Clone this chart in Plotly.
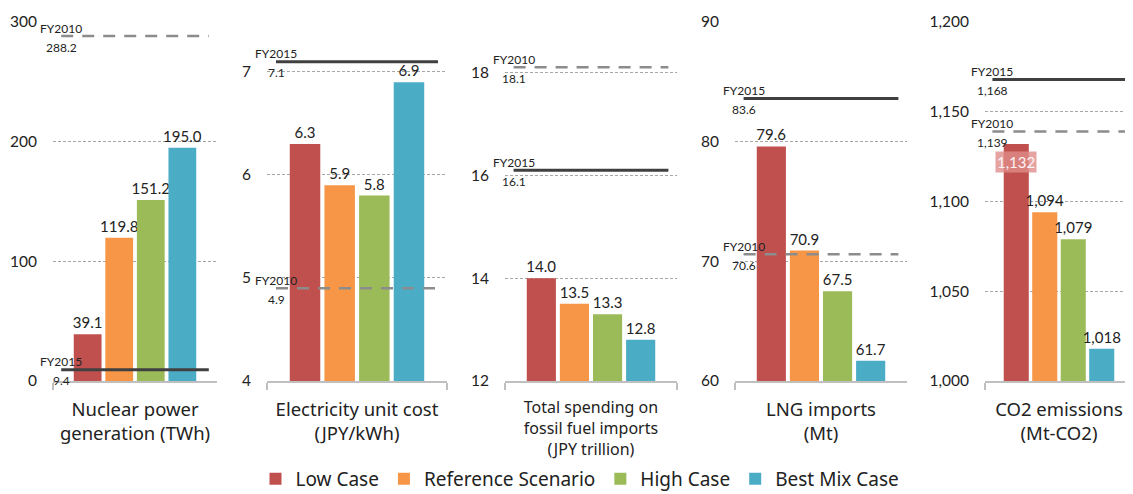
import plotly.graph_objects as go

# ---------------- data ----------------
categories = [
    "Nuclear power<br>generation (TWh)",
    "Electricity unit cost<br>(JPY/kWh)",
    "Total spending on<br>fossil fuel imports<br>(JPY trillion)",
    "LNG imports<br>(Mt)",
    "CO2 emissions<br>(Mt-CO2)",
]
scenarios = ["Low Case", "Reference Scenario", "High Case", "Best Mix Case"]
low_case = [39.1, 6.3, 14.0, 79.6, 1132]
reference_scenario = [119.8, 5.9, 13.5, 70.9, 1094]
high_case = [151.2, 5.8, 13.3, 67.5, 1079]
best_mix_case = [195.0, 6.9, 12.8, 61.7, 1018]
fy2010_values = [288.2, 4.9, 18.1, 70.6, 1139]
fy2015_values = [9.4, 7.1, 16.1, 83.6, 1168]
fy2010_labels = ["288.2", "4.9", "18.1", "70.6", "1,139"]
fy2015_labels = ["9.4", "7.1", "16.1", "83.6", "1,168"]
y_ticks = [
    [0, 100, 200, 300],
    [4, 5, 6, 7],
    [12, 14, 16, 18],
    [60, 70, 80, 90],
    [1000, 1050, 1100, 1150, 1200],
]
y_tick_text = [
    ["0", "100", "200", "300"],
    ["4", "5", "6", "7"],
    ["12", "14", "16", "18"],
    ["60", "70", "80", "90"],
    ["1,000", "1,050", "1,100", "1,150", "1,200"],
]
value_formats = ["%{y:.1f}", "%{y:.1f}", "%{y:.1f}", "%{y:.1f}", "%{y:,.0f}"]

# ---------------- styles ----------------
colors = ["#C0504D", "#F79646", "#9BBB59", "#4BACC6"]
NUM_FONT = "Lato, 'Noto Sans', sans-serif"
TXT_FONT = "'Noto Sans', 'Open Sans', sans-serif"
OFF = 8                      # page body margin of the browser
W, H = 1133 - OFF, 494 - OFF
BARGAP = 0.23


def fx(px):
    return (px - OFF) / W


def fy(py):
    return (H - (py - OFF)) / H


x_px = [(53, 217), (267, 447), (505, 677), (735, 907), (985, 1133)]
y_ranges = [[0, 300], [4, 7.485], [12, 18.98], [60, 90], [1000, 1200]]
y_dom = [fy(381), fy(22)]
xlab_size = [18.5, 18.5, 16, 18.5, 18.5]

series = [low_case, reference_scenario, high_case, best_mix_case]

fig = go.Figure()
layout = dict(
    width=W, height=H,
    margin=dict(l=0, r=0, t=0, b=0, autoexpand=False),
    paper_bgcolor="white", plot_bgcolor="white",
    barmode="group", bargap=BARGAP, bargroupgap=0.12,
    font=dict(family=TXT_FONT, color="#222222"),
    showlegend=True,
    legend=dict(orientation="h", x=fx(580), xanchor="center", y=fy(479), yanchor="middle",
                font=dict(size=19, family=TXT_FONT, color="#222222"),
                itemclick=False, traceorder="normal", itemwidth=30),
    shapes=[], annotations=[],
)

for p in range(5):
    sfx = "" if p == 0 else str(p + 1)
    xa, ya = "x" + sfx, "y" + sfx
    for s in range(4):
        v = series[s][p]
        inside = (p == 4 and s == 0)
        fig.add_trace(go.Bar(
            x=[categories[p]], y=[v], name=scenarios[s],
            marker=dict(color=colors[s], line=dict(width=0)),
            legendgroup=scenarios[s], showlegend=(p == 0),
            texttemplate=value_formats[p],
            textposition="none" if inside else "outside",
            textangle=0, constraintext="none",
            textfont=dict(size=15, family=NUM_FONT, color="#222222"),
            cliponaxis=False,
            xaxis=xa, yaxis=ya, hoverinfo="skip",
        ))
        if inside:
            # label drawn on top of the bar, as in the reference (white on a pink glow)
            bar_center = 0.5 - (1 - BARGAP) * 3 / 8
            layout["annotations"].append(dict(
                xref=xa + " domain", yref=ya, x=bar_center, y=v,
                text=f"{v:,.0f}", showarrow=False, xanchor="center", yanchor="middle",
                yshift=-18, bgcolor="rgba(222,140,138,0.8)", borderpad=1,
                font=dict(size=15, family=NUM_FONT, color="#FDF3F3"),
            ))
    layout["xaxis" + sfx] = dict(
        domain=[fx(x_px[p][0]), min(1.0, fx(x_px[p][1]))], anchor=ya,
        type="category", showgrid=False, zeroline=False, automargin=False,
        showline=True, linecolor="#BFBFBF", linewidth=1.5,
        ticks="outside", tickson="boundaries", ticklen=7, tickcolor="#BFBFBF", tickwidth=1.5,
        ticklabelstandoff=11,
        tickfont=dict(size=xlab_size[p], family=TXT_FONT, color="#222222"),
        fixedrange=True,
    )
    layout["yaxis" + sfx] = dict(
        domain=y_dom, anchor=xa, range=y_ranges[p], automargin=False,
        tickvals=y_ticks[p], ticktext=y_tick_text[p],
        showgrid=True, gridcolor="#A6A6A6", gridwidth=1, griddash="3px,2px",
        zeroline=False, showline=False, ticks="",
        ticklabelstandoff=15,
        tickfont=dict(size=15.5, family=NUM_FONT, color="#222222"),
        fixedrange=True,
    )
    # reference lines
    for vals, labs, name, col, dash, wid in [
        (fy2010_values, fy2010_labels, "FY2010", "#8C8C8C", "12px,9px", 2.5),
        (fy2015_values, fy2015_labels, "FY2015", "#404040", "solid", 3),
    ]:
        layout["shapes"].append(dict(
            type="line", xref=xa + " domain", yref=ya,
            x0=0.05, x1=0.95, y0=vals[p], y1=vals[p],
            line=dict(color=col, width=wid, dash=dash), layer="above",
        ))
        layout["annotations"].append(dict(
            xref=xa + " domain", yref=ya, x=0.05, y=vals[p], text=name,
            showarrow=False, xanchor="center", yanchor="middle", yshift=8,
            font=dict(size=12, family=NUM_FONT, color="#222222"),
        ))
        layout["annotations"].append(dict(
            xref=xa + " domain", yref=ya, x=0.05, y=vals[p], text=labs[p],
            showarrow=False, xanchor="center", yanchor="middle", yshift=-11,
            font=dict(size=12, family=NUM_FONT, color="#222222"),
        ))

fig.update_layout(**layout)
fig.write_html("out.html")
